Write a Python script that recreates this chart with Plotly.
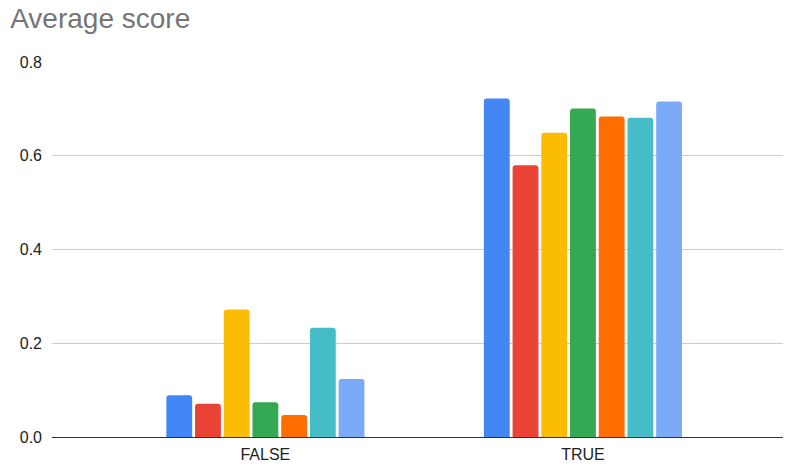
import plotly.graph_objects as go

categories = ["FALSE", "TRUE"]
series_names = ["Series 1", "Series 2", "Series 3", "Series 4", "Series 5", "Series 6", "Series 7"]
series_values = [
    [0.089, 0.722],
    [0.071, 0.580],
    [0.272, 0.649],
    [0.074, 0.701],
    [0.047, 0.684],
    [0.233, 0.681],
    [0.124, 0.716],
]
series_colors = ["#4285F4", "#EA4335", "#FBBC04", "#34A853", "#FF6D01", "#46BDC6", "#7BAAF7"]
y_ticks = [0.0, 0.2, 0.4, 0.6, 0.8]

fig = go.Figure()
for name, vals, color in zip(series_names, series_values, series_colors):
    fig.add_trace(go.Bar(x=categories, y=vals, name=name, marker_color=color,
                         marker_line_width=0))

fig.update_layout(
    width=785, height=466,
    margin=dict(l=52, r=2, t=62, b=29),
    paper_bgcolor="white", plot_bgcolor="white",
    showlegend=False,
    barmode="group", bargap=0.367, bargroupgap=0.1,
    barcornerradius=3,
    font=dict(family="Arial, Liberation Sans, sans-serif", size=16, color="#222222"),
    title=dict(text="Average score", x=0.013, xanchor="left", y=0.962, yanchor="middle",
               font=dict(size=28, color="#757575", family="Arial, Liberation Sans, sans-serif")),
)
fig.update_yaxes(range=[0, 0.8], tickvals=y_ticks, tickformat=".1f",
                 showgrid=True, gridcolor="#cccccc", gridwidth=1,
                 zeroline=True, zerolinecolor="#333333", zerolinewidth=1,
                 ticklabelstandoff=9, showline=False, fixedrange=True)
fig.update_xaxes(range=[-0.672, 1.63], showgrid=False, showline=False,
                 ticks="", ticklabelstandoff=6, fixedrange=True)

fig.write_html("out.html")
